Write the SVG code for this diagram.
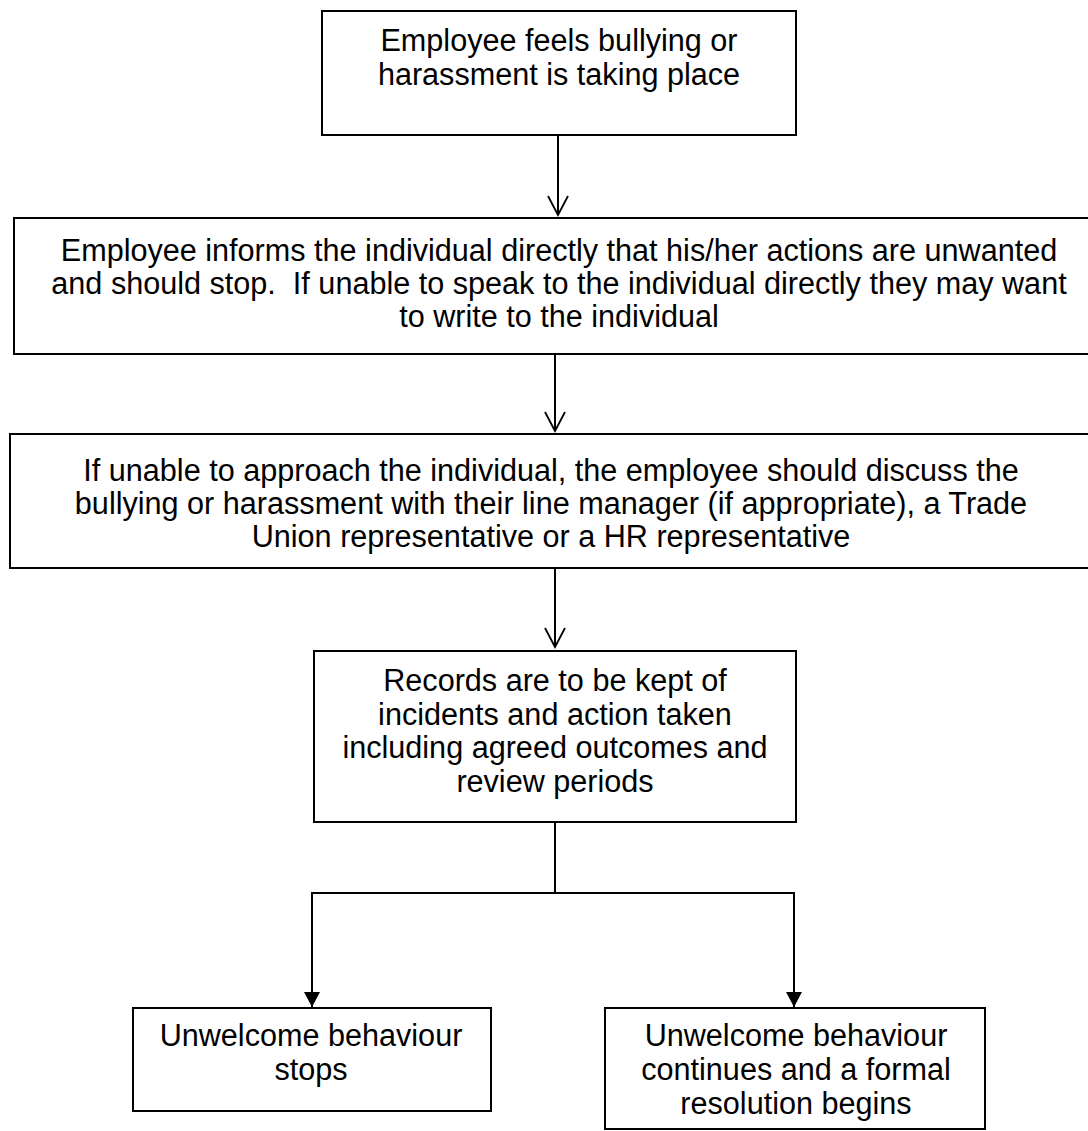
<svg xmlns="http://www.w3.org/2000/svg" width="1088" height="1131" viewBox="0 0 1088 1131">
<style>
.box{fill:#fff;stroke:#000;stroke-width:2}
.t{font-family:"Liberation Sans",Arial,sans-serif;font-size:30.6px;fill:#000;text-anchor:middle}
.ln{stroke:#000;stroke-width:2;fill:none}
</style>
<defs>
<marker id="open" markerUnits="userSpaceOnUse" markerWidth="22" markerHeight="24" refX="20" refY="11" orient="auto" viewBox="0 0 22 22">
<path d="M1,1 L20,11 L1,21" fill="none" stroke="#000" stroke-width="1.8"/>
</marker>
<marker id="fill" markerUnits="userSpaceOnUse" markerWidth="16" markerHeight="16" refX="15" refY="8" orient="auto" viewBox="0 0 16 16">
<path d="M0,0 L15,8 L0,16 Z" fill="#000"/>
</marker>
</defs>
<g id="connectors">
<line class="ln" x1="558" y1="135" x2="558" y2="215" marker-end="url(#open)"/>
<line class="ln" x1="555" y1="354" x2="555" y2="431" marker-end="url(#open)"/>
<line class="ln" x1="555" y1="568" x2="555" y2="647" marker-end="url(#open)"/>
<polyline class="ln" points="555,822 555,893"/>
<polyline class="ln" points="312,995 312,893 794,893 794,995"/>
<line class="ln" x1="312" y1="990" x2="312" y2="1007" marker-end="url(#fill)"/>
<line class="ln" x1="794" y1="990" x2="794" y2="1007" marker-end="url(#fill)"/>
</g>
<g id="node1">
<rect class="box" x="322" y="11" width="474" height="124"/>
<text class="t" x="559" y="51">Employee feels bullying or</text>
<text class="t" x="559" y="85">harassment is taking place</text>
</g>
<g id="node2">
<rect class="box" x="14" y="218" width="1090" height="136"/>
<text class="t" x="559" y="261">Employee informs the individual directly that his/her actions are unwanted</text>
<text class="t" x="559" y="294" xml:space="preserve">and should stop.  If unable to speak to the individual directly they may want</text>
<text class="t" x="559" y="327">to write to the individual</text>
</g>
<g id="node3">
<rect class="box" x="10" y="434" width="1082" height="134"/>
<text class="t" x="551" y="481">If unable to approach the individual, the employee should discuss the</text>
<text class="t" x="551" y="514">bullying or harassment with their line manager (if appropriate), a Trade</text>
<text class="t" x="551" y="547">Union representative or a HR representative</text>
</g>
<g id="node4">
<rect class="box" x="314" y="651" width="482" height="171"/>
<text class="t" x="555" y="691">Records are to be kept of</text>
<text class="t" x="555" y="725">incidents and action taken</text>
<text class="t" x="555" y="758">including agreed outcomes and</text>
<text class="t" x="555" y="792">review periods</text>
</g>
<g id="node5">
<rect class="box" x="133" y="1008" width="358" height="103"/>
<text class="t" x="311" y="1046">Unwelcome behaviour</text>
<text class="t" x="311" y="1080">stops</text>
</g>
<g id="node6">
<rect class="box" x="605" y="1008" width="380" height="121"/>
<text class="t" x="796" y="1046">Unwelcome behaviour</text>
<text class="t" x="796" y="1080">continues and a formal</text>
<text class="t" x="796" y="1114">resolution begins</text>
</g>
</svg>
